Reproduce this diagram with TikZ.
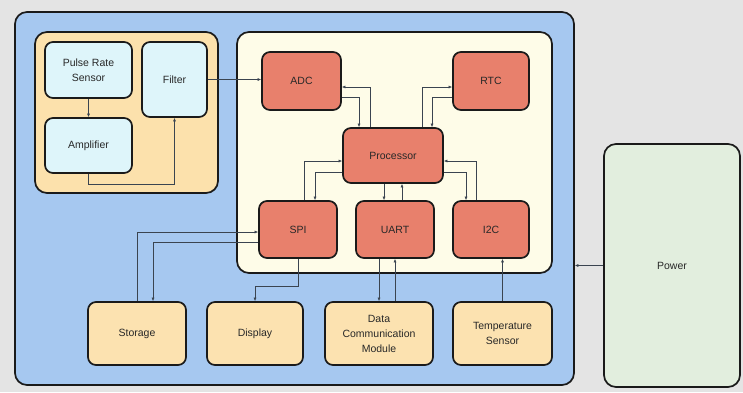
\documentclass[tikz,border=0pt]{standalone}
\usepackage{fontspec}
\setmainfont{Liberation Sans}
\usetikzlibrary{arrows.meta}
\definecolor{bg}{RGB}{228,228,228}
\definecolor{outerblue}{RGB}{166,200,240}
\definecolor{orangebox}{RGB}{252,225,172}
\definecolor{cyannode}{RGB}{222,245,250}
\definecolor{creambox}{RGB}{254,252,232}
\definecolor{rednode}{RGB}{232,128,108}
\definecolor{tannode}{RGB}{252,226,176}
\definecolor{powergreen}{RGB}{226,238,222}
\definecolor{edge}{RGB}{26,26,26}
\definecolor{wire}{RGB}{58,68,80}
\definecolor{txt}{RGB}{40,40,40}
\begin{document}
\begin{tikzpicture}[x=1pt,y=-1pt,
  box/.style={draw=edge,line width=1.7pt,rounded corners=8pt,align=center,
    text=txt,font=\fontsize{10.5}{15}\selectfont,inner sep=0pt},
  container/.style={draw=edge,line width=1.7pt,rounded corners=12pt},
  cyanbox/.style={box,fill=cyannode},
  redbox/.style={box,fill=rednode},
  tanbox/.style={box,fill=tannode},
  conn/.style={draw=wire,line width=0.6pt,-{Latex[length=3.5pt,width=3pt]}}]
\fill[bg] (0,0) rectangle (743,392);
\useasboundingbox (0,0) rectangle (743,392);
% containers
\node[container,fill=outerblue,minimum width=559pt,minimum height=373pt] (outer) at (294.5,198.5) {};
\node[container,fill=orangebox,minimum width=183pt,minimum height=161pt] (leftbox) at (126.5,112.5) {};
\node[container,fill=creambox,minimum width=315pt,minimum height=241pt] (inner) at (394.5,152.5) {};
% left nodes
\node[cyanbox,minimum width=87pt,minimum height=56pt] (pulse) at (88.5,70) {Pulse Rate\\Sensor};
\node[cyanbox,minimum width=87pt,minimum height=55pt] (amp) at (88.5,145.5) {Amplifier};
\node[cyanbox,minimum width=65pt,minimum height=75pt] (filter) at (174.5,79.5) {Filter};
% inner nodes
\node[redbox,minimum width=79pt,minimum height=58pt] (adc) at (301.5,81) {ADC};
\node[redbox,minimum width=76pt,minimum height=58pt] (rtc) at (491,81) {RTC};
\node[redbox,minimum width=100pt,minimum height=55pt] (proc) at (393,155.5) {Processor};
\node[redbox,minimum width=78pt,minimum height=57pt] (spi) at (298,229.5) {SPI};
\node[redbox,minimum width=78pt,minimum height=57pt] (uart) at (395,229.5) {UART};
\node[redbox,minimum width=76pt,minimum height=57pt] (i2c) at (491,229.5) {I2C};
% bottom nodes
\node[tanbox,minimum width=98pt,minimum height=63pt] (storage) at (137,333.5) {Storage};
\node[tanbox,minimum width=96pt,minimum height=63pt] (display) at (255,333.5) {Display};
\node[tanbox,minimum width=108pt,minimum height=63pt] (datacomm) at (379,333.5) {Data\\Communication\\Module};
\node[tanbox,minimum width=99pt,minimum height=63pt] (temp) at (502.5,333.5) {Temperature\\Sensor};
% power
\node[box,fill=powergreen,rounded corners=12pt,minimum width=136pt,minimum height=243pt] (power) at (672,265.5) {Power};
% connectors
\draw[conn] (pulse.south) -- (amp.north);
\draw[conn] (amp.south) -- ++(0,10) -| (filter.south);
\draw[conn] (filter.east) -- (filter.east -| adc.west);
\draw[conn] ([yshift=-16pt]adc.east) -| ([xshift=-34pt]proc.north);
\draw[conn] ([xshift=-23pt]proc.north) |- ([yshift=-6pt]adc.east);
\draw[conn] ([xshift=29pt]proc.north) |- ([yshift=-6pt]rtc.west);
\draw[conn] ([yshift=-16pt]rtc.west) -| ([xshift=39pt]proc.north);
\draw[conn] ([xshift=6pt]spi.north) |- ([yshift=-5.5pt]proc.west);
\draw[conn] ([yshift=-16.5pt]proc.west) -| ([xshift=17pt]spi.north);
\coordinate (u1) at ([xshift=-11pt]uart.north);
\coordinate (u2) at ([xshift=7pt]uart.north);
\draw[conn] (u1 |- proc.south) -- (u1);
\draw[conn] (u2) -- (u2 |- proc.south);
\draw[conn] ([xshift=-15pt]i2c.north) |- ([yshift=-5.5pt]proc.east);
\draw[conn] ([yshift=-16.5pt]proc.east) -| ([xshift=-25pt]i2c.north);
\draw[conn] (storage.north) |- ([yshift=-2.5pt]spi.west);
\draw[conn] ([yshift=-12.5pt]spi.west) -| ([xshift=16pt]storage.north);
\draw[conn] (spi.south) -- ++(0,27) -| (display.north);
\draw[conn] (datacomm.north |- uart.south) -- (datacomm.north);
\draw[conn] (uart.south |- datacomm.north) -- (uart.south);
\draw[conn] (temp.north) -- (temp.north |- i2c.south);
\draw[conn] (power.west) -- (power.west -| outer.east);
\end{tikzpicture}
\end{document}
